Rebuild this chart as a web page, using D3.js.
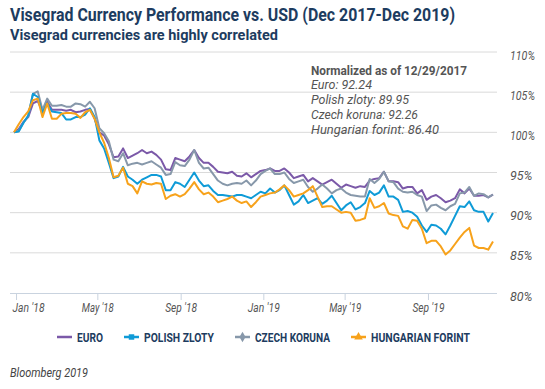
<!DOCTYPE html>
<html><head><meta charset="utf-8">
<script src="https://cdn.jsdelivr.net/npm/d3@7"></script>
<style>
body{margin:0;background:#fff;}
svg{display:block;}
</style></head>
<body><svg id="c" width="545" height="389"></svg>
<script>
const startDate = new Date(2017, 11, 29);
const weeks = d3.range(102).map(i => d3.timeDay.offset(startDate, 7 * i));

const euro = [100.0,100.4,101.3,101.9,103.6,103.9,102.6,103.8,102.8,102.8,102.8,102.7,102.8,102.5,102.6,102.8,102.9,101.7,100.0,99.6,
98.5,96.9,97.0,98.0,96.8,97.1,97.4,97.8,97.4,97.6,97.2,96.6,95.4,95.3,96.8,96.6,96.4,97.0,97.8,96.8,
96.2,96.2,95.7,95.1,95.0,94.9,95.1,94.6,94.5,94.9,94.4,94.8,95.2,95.3,95.5,95.2,95.2,95.5,95.0,94.3,
94.5,94.7,93.9,94.3,93.9,93.5,93.8,94.1,93.6,93.1,93.5,93.3,93.1,93.3,93.2,94.0,94.2,94.3,95.1,93.9,
93.9,93.8,93.0,93.2,93.2,92.4,92.8,91.6,92.0,92.2,91.8,91.3,91.5,91.8,92.9,92.4,93.0,92.1,92.1,92.2,
91.9,92.24];
const zloty = [100.0,100.1,101.2,102.1,104.8,104.4,102.4,103.6,102.6,102.5,102.4,101.6,101.6,101.9,101.9,102.2,103.0,101.9,99.0,98.0,
96.2,94.3,94.5,95.7,94.5,94.1,93.6,94.1,94.4,94.7,94.7,94.5,92.8,92.8,93.8,93.6,93.2,94.1,95.0,94.0,
93.3,93.4,92.7,92.2,92.2,92.1,92.0,92.2,92.2,92.0,91.8,92.2,92.6,92.4,93.0,92.5,92.8,93.4,92.2,91.0,
91.4,92.2,91.2,91.5,91.8,91.1,91.5,92.1,91.2,90.3,90.9,91.3,90.4,90.7,91.2,92.7,92.2,92.5,93.4,92.0,
92.0,91.6,90.1,90.2,90.0,89.5,88.4,87.6,88.5,88.4,88.0,87.3,88.4,89.6,90.8,90.7,91.4,90.3,90.1,90.1,
88.9,89.95];
const koruna = [100.0,100.2,101.2,102.0,104.8,105.1,102.8,104.2,103.3,103.3,103.4,103.2,103.2,103.6,103.5,103.2,103.8,103.0,100.5,99.9,
98.9,96.6,96.4,97.4,95.9,96.1,96.2,96.0,96.2,96.4,96.0,95.6,94.7,94.8,96.3,95.9,95.8,96.6,97.8,96.2,
95.5,95.6,94.8,94.0,93.6,93.4,93.6,93.7,93.6,94.0,93.4,94.0,94.8,95.2,95.5,94.8,94.8,95.0,94.2,93.7,
93.9,94.1,93.2,92.6,93.0,93.5,93.0,92.4,92.8,93.0,92.5,92.2,92.1,92.0,92.0,94.2,93.7,94.2,95.1,93.9,
93.8,93.0,92.6,92.5,92.6,92.2,92.0,90.2,90.9,91.0,90.6,90.3,90.8,91.1,92.4,92.5,93.2,92.1,92.4,92.3,
91.9,92.26];
const forint = [100.0,101.0,101.9,102.6,104.0,104.2,101.9,103.6,101.7,101.7,102.3,102.4,102.4,102.3,101.8,102.5,102.8,101.7,100.0,98.7,
96.8,94.4,94.6,95.6,93.6,93.3,92.4,93.9,93.6,93.5,93.7,93.6,91.7,92.1,92.3,92.0,92.3,93.0,93.8,92.9,
92.3,92.5,92.0,91.3,91.5,91.7,92.0,91.5,91.2,91.4,90.7,91.3,92.0,92.2,92.4,92.5,92.9,93.4,92.8,92.0,
92.2,92.4,92.8,93.3,92.0,90.7,90.8,90.8,90.4,90.0,90.1,90.0,89.0,89.1,89.3,91.8,90.6,90.8,91.2,89.9,
89.7,89.6,88.3,88.0,89.1,89.0,88.0,86.2,86.5,86.5,85.8,84.8,85.3,86.1,86.9,87.6,88.1,85.9,85.6,85.6,
85.4,86.40];

const seriesNames = ["EURO", "POLISH ZLOTY", "CZECH KORUNA", "HUNGARIAN FORINT"];
const seriesColors = ["#7b59a8", "#0f9bd7", "#8798aa", "#f7a21b"];
const seriesMarkers = [null, "square", "diamond", "triangle"];
const seriesData = [euro, zloty, koruna, forint];

const yTicks = [80, 85, 90, 95, 100, 105, 110];
const xTickDates = [new Date(2018,0,1), new Date(2018,4,1), new Date(2018,8,1), new Date(2019,0,1), new Date(2019,4,1), new Date(2019,8,1)];
const xTickLabels = ["Jan '18", "May '18", "Sep '18", "Jan '19", "May '19", "Sep '19"];

const titleText = "Visegrad Currency Performance vs. USD (Dec 2017-Dec 2019)";
const subtitleText = "Visegrad currencies are highly correlated";
const noteTitle = "Normalized as of 12/29/2017";
const noteLines = ["Euro: 92.24", "Polish zloty: 89.95", "Czech koruna: 92.26", "Hungarian forint: 86.40"];
const sourceText = "Bloomberg 2019";

const FONT = "Roboto, 'Noto Sans', sans-serif";
const navy = "#1d3c60";
const svg = d3.select("#c");

function fit(sel, w) {
  const n = sel.node();
  if (n.getComputedTextLength() > w) sel.attr("textLength", w).attr("lengthAdjust", "spacingAndGlyphs");
  return sel;
}

const x = d3.scaleTime().domain([startDate, weeks[weeks.length - 1]]).range([14, 493]);
const y = d3.scaleLinear().domain([80, 110]).range([293, 52]);

// titles
fit(svg.append("text").attr("x", 10).attr("y", 21).attr("font-family", FONT).attr("font-weight", "bold")
  .attr("font-size", 18).attr("fill", navy).text(titleText), 445);
fit(svg.append("text").attr("x", 10).attr("y", 40).attr("font-family", FONT).attr("font-weight", "bold")
  .attr("font-size", 14.5).attr("fill", navy).text(subtitleText), 273);

// gridlines
svg.append("g").selectAll("line").data(yTicks.filter(d => d > 80)).join("line")
  .attr("x1", 10).attr("x2", 497).attr("y1", d => y(d)).attr("y2", d => y(d))
  .attr("stroke", "#dadada").attr("stroke-width", 1);

// y labels right
const yAxis = d3.axisRight(y).tickValues(yTicks).tickFormat(d => d + "%").tickSize(0).tickPadding(0);
const gy = svg.append("g").attr("transform", "translate(510,3)").call(yAxis);
gy.select(".domain").remove();
gy.selectAll("text").attr("font-family", FONT).attr("font-style", "italic").attr("font-size", 12.5).attr("fill", "#555")
  .each(function() { fit(d3.select(this), 25); });

// x axis
const xAxis = d3.axisBottom(x).tickValues(xTickDates).tickFormat((d, i) => xTickLabels[i]).tickSize(7).tickPadding(3);
const gx = svg.append("g").attr("transform", `translate(0,${y(80)})`).call(xAxis);
gx.select(".domain").attr("d", "M10,0.5H497").attr("stroke", "#c9d3df");
gx.selectAll(".tick line").attr("stroke", "#c9d3df");
gx.selectAll("text").attr("font-family", FONT).attr("font-style", "italic").attr("font-size", 12.5).attr("fill", "#555")
  .each(function() { fit(d3.select(this), 32); });
gx.selectAll(".tick").filter((d, i) => i === 0).select("text").attr("text-anchor", "start").attr("x", -4);

// lines
const line = d3.line().x((d, i) => x(weeks[i])).y(d => y(d));
const gl = svg.append("g");
[0, 2, 1, 3].forEach(k => {
  gl.append("path").datum(seriesData[k]).attr("d", line).attr("fill", "none")
    .attr("stroke", seriesColors[k]).attr("stroke-width", 2).attr("stroke-linejoin", "round");
});

// note
fit(svg.append("text").attr("x", 311).attr("y", 75).attr("font-family", FONT).attr("font-weight", "bold")
  .attr("font-size", 13).attr("fill", "#555").text(noteTitle), 156);
const noteW = [61, 98, 107, 128];
noteLines.forEach((t, i) => {
  fit(svg.append("text").attr("x", 311).attr("y", 89 + i * 15).attr("font-family", FONT).attr("font-style", "italic")
    .attr("font-size", 13).attr("fill", "#555").text(t), noteW[i]);
});

// legend
const legX = [57, 124, 235, 351];
const legW = [26, 70, 75, 99];
const lg = svg.append("g").attr("transform", "translate(0,337)");
seriesNames.forEach((n, k) => {
  const g = lg.append("g").attr("transform", `translate(${legX[k]},0)`);
  g.append("line").attr("x1", 0).attr("x2", 15).attr("y1", 0).attr("y2", 0)
    .attr("stroke", seriesColors[k]).attr("stroke-width", 2.5);
  const m = seriesMarkers[k];
  if (m) {
    const sym = m === "square" ? d3.symbolSquare : m === "diamond" ? d3.symbolDiamond : d3.symbolTriangle;
    g.append("path").attr("d", d3.symbol().type(sym).size(m === "square" ? 30 : 32)()).attr("transform", "translate(7.5,0)")
      .attr("fill", seriesColors[k]);
  }
  fit(g.append("text").attr("x", 20).attr("y", 4.5).attr("font-family", FONT).attr("font-weight", "bold")
    .attr("font-size", 12.5).attr("fill", navy).text(n), legW[k]);
});

fit(svg.append("text").attr("x", 10).attr("y", 377).attr("font-family", FONT).attr("font-style", "italic")
  .attr("font-size", 12.5).attr("fill", "#444").text(sourceText), 78);
</script></body></html>
